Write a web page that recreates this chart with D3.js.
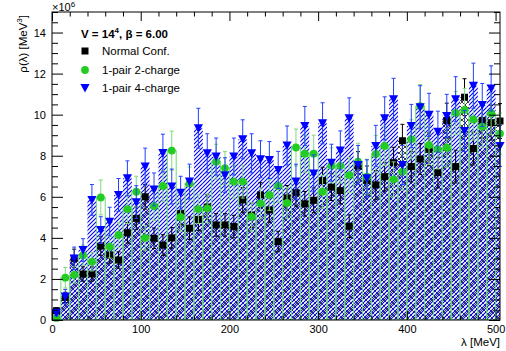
<!DOCTYPE html>
<html><head><meta charset="utf-8">
<script src="https://cdn.jsdelivr.net/npm/d3@7"></script>
<style>
body{margin:0;background:#fff}
svg{display:block}
text{font-family:"Liberation Sans",Arial,Helvetica,sans-serif;fill:#000}
</style>
</head><body>
<svg id="c" width="506" height="351"></svg>
<script>
// ---- data (rho values in units of 10^6 MeV^3) ----
const lambdaCenters = [5,15,25,35,45,55,65,75,85,95,105,115,125,135,145,155,165,175,185,195,
  205,215,225,235,245,255,265,275,285,295,305,315,325,335,345,355,365,375,385,395,
  405,415,425,435,445,455,465,475,485,495,505];
const binWidth = 10;
const normalConf = [0.45,1.10,3.00,2.24,2.24,3.60,3.17,2.92,4.25,4.95,6.00,3.98,3.65,4.00,5.18,4.47,4.90,5.50,4.63,4.63,
  4.55,5.85,5.11,6.09,5.36,3.82,5.95,6.20,5.66,5.83,6.79,6.47,6.30,4.57,7.50,6.80,6.58,6.98,7.66,8.73,
  7.47,7.84,8.31,7.18,9.71,7.47,10.85,8.35,9.71,9.61,9.69];
const normalErr = [0.15,0.25,0.45,0.35,0.35,0.45,0.40,0.40,0.50,0.55,0.60,0.50,0.50,0.50,0.55,0.55,0.55,0.60,0.55,0.55,
  0.55,0.60,0.60,0.60,0.60,0.50,0.60,0.65,0.60,0.60,0.65,0.65,0.65,0.55,0.70,0.70,0.70,0.70,0.75,0.80,
  0.75,0.75,0.80,0.75,0.85,0.80,0.90,0.80,0.85,0.85,0.85];
const pair2 = [0.10,2.06,2.20,3.15,2.84,5.97,3.57,4.14,5.40,6.25,4.00,5.55,6.53,8.25,5.02,6.65,5.40,5.44,7.71,7.40,
  6.74,6.74,5.03,5.68,6.09,6.53,5.70,8.40,8.10,8.10,6.25,7.53,7.51,7.06,7.71,6.98,8.09,8.48,6.85,7.23,
  8.80,10.42,8.52,8.31,8.39,10.08,10.23,9.77,9.42,10.07,9.08];
const pair2Err = [0.10,0.50,0.40,0.50,0.45,0.85,0.55,0.60,0.70,0.75,0.60,0.70,0.75,0.95,0.70,0.80,0.70,0.70,0.85,0.80,
  0.80,0.80,0.70,0.75,0.75,0.80,0.75,0.90,0.90,0.90,0.80,0.85,0.85,0.85,0.90,0.85,0.90,0.95,0.85,0.90,
  0.95,1.05,0.95,0.95,0.95,1.05,1.05,1.00,1.00,1.05,1.00];
const pair4 = [0.35,1.14,3.00,3.41,5.85,4.38,4.79,6.09,6.90,5.74,7.47,6.36,8.13,6.50,6.20,6.74,9.34,8.12,7.96,7.05,
  7.96,8.80,8.12,7.83,7.79,7.31,8.50,6.74,9.45,7.14,9.58,7.66,8.26,9.82,7.55,6.90,8.48,9.82,10.75,7.55,
  9.45,10.36,9.99,9.17,9.94,10.75,9.21,11.41,10.47,11.28,8.48];
const pair4Err = [0.15,0.35,0.55,0.55,0.75,0.65,0.70,0.80,0.85,0.80,0.90,0.80,0.92,0.85,0.80,0.85,0.97,0.95,0.90,0.85,
  0.90,0.95,0.95,0.90,0.90,0.90,0.95,0.85,0.95,0.90,1.00,0.90,0.95,1.00,0.95,0.90,1.00,1.05,1.02,0.95,
  1.05,1.05,1.05,1.00,1.05,1.10,1.00,1.10,1.05,1.10,1.00];
const yTicks = [0,2,4,6,8,10,12,14];
const xTicks = [0,100,200,300,400,500];

// ---- layout ----
const F = {l:52, r:500, t:12, b:320};
const x = d3.scaleLinear().domain([0,505]).range([F.l,F.r]);
const y = d3.scaleLinear().domain([0,15]).range([F.b,F.t]);
const svg = d3.select("#c");

const defs = svg.append("defs");
defs.append("clipPath").attr("id","frameClip").append("rect")
  .attr("x",F.l).attr("y",F.t).attr("width",F.r-F.l).attr("height",F.b-F.t);
// blue "/" hatch
const pBlue = defs.append("pattern").attr("id","hBlue").attr("patternUnits","userSpaceOnUse")
  .attr("x",2).attr("y",0).attr("width",4).attr("height",4);
pBlue.append("path").attr("d","M-1,1 L1,-1 M0,4 L4,0 M3,5 L5,3")
  .attr("stroke","#0000ff").attr("stroke-width",1.1).attr("fill","none");
// black cross-hatch
const pBlack = defs.append("pattern").attr("id","hBlack").attr("patternUnits","userSpaceOnUse")
  .attr("width",6).attr("height",6);
pBlack.append("path").attr("d","M-1,1 L1,-1 M0,6 L6,0 M5,7 L7,5 M-1,5 L1,7 M0,0 L6,6 M5,-1 L7,1")
  .attr("stroke","#000").attr("stroke-width",0.75).attr("fill","none");

const series = [
  {vals:normalConf, err:normalErr, fill:"url(#hBlack)", stroke:null, ecol:"#000", mcol:"#000", marker:"square"},
  {vals:pair2, err:pair2Err, fill:"none", stroke:"#6fdc6f", ecol:"#7fd97f", mcol:"#22cc22", marker:"circle"},
  {vals:pair4, err:pair4Err, fill:"url(#hBlue)", stroke:null, ecol:"#2040ff", mcol:"#0000ff", marker:"tri"}
];
const barOrder = [0,2,1];

function drawMarker(g, type, cx, cy, col){
  if(type==="square") g.append("rect").attr("x",cx-3.5).attr("y",cy-3.5).attr("width",7).attr("height",7).attr("fill",col);
  else if(type==="circle") g.append("circle").attr("cx",cx).attr("cy",cy).attr("r",3.9).attr("fill",col);
  else g.append("path").attr("d",`M${cx-4.6},${cy-4} L${cx+4.6},${cy-4} L${cx},${cy+4.6} Z`).attr("fill",col);
}

// bars (hatched histograms)
barOrder.forEach(k=>{
  const s = series[k];
  const gb = svg.append("g").attr("clip-path","url(#frameClip)");
  gb.selectAll("rect").data(s.vals).enter().append("rect")
    .attr("x",(d,i)=>x(lambdaCenters[i]-binWidth/2))
    .attr("width",(d,i)=>x(lambdaCenters[i]+binWidth/2)-x(lambdaCenters[i]-binWidth/2))
    .attr("y",d=>y(d)).attr("height",d=>y(0)-y(d))
    .attr("fill",s.fill)
    .attr("stroke",s.stroke||"none").attr("stroke-width",1);
});
// error bars and markers
series.forEach(s=>{
  const ge = svg.append("g").attr("stroke",s.ecol).attr("stroke-width",1).attr("fill","none");
  s.vals.forEach((v,i)=>{
    const cx = x(lambdaCenters[i]);
    const y1 = y(v+s.err[i]), y0 = y(Math.max(0,v-s.err[i]));
    ge.append("line").attr("x1",cx).attr("x2",cx).attr("y1",y1).attr("y2",y0);
    ge.append("line").attr("x1",cx-2).attr("x2",cx+2).attr("y1",y1).attr("y2",y1);
    ge.append("line").attr("x1",cx-2).attr("x2",cx+2).attr("y1",y0).attr("y2",y0);
  });
  const gm = svg.append("g");
  s.vals.forEach((v,i)=>drawMarker(gm, s.marker, x(lambdaCenters[i]), y(v), s.mcol));
});

// ---- axes ----
const yMinor = d3.range(0,15.01,0.5).filter(v=>v%2!==0);
const xMinor = d3.range(0,506,20).filter(v=>v%100!==0);
function styleAxis(g){ g.select(".domain").remove(); g.selectAll("line").attr("stroke","#000"); g.selectAll("text").attr("font-size",11).attr("font-family","Liberation Sans, Arial, sans-serif"); }
svg.append("g").attr("transform",`translate(${F.l},0)`)
  .call(d3.axisLeft(y).tickValues(yTicks).tickSize(-11).tickPadding(6).tickFormat(d3.format("d"))).call(styleAxis);
svg.append("g").attr("transform",`translate(${F.l},0)`)
  .call(d3.axisLeft(y).tickValues(yMinor).tickSize(-6).tickFormat("")).call(styleAxis);
svg.append("g").attr("transform",`translate(${F.r},0)`)
  .call(d3.axisRight(y).tickValues(yTicks).tickSize(-11).tickFormat("")).call(styleAxis);
svg.append("g").attr("transform",`translate(${F.r},0)`)
  .call(d3.axisRight(y).tickValues(yMinor).tickSize(-6).tickFormat("")).call(styleAxis);
svg.append("g").attr("transform",`translate(0,${F.b})`)
  .call(d3.axisBottom(x).tickValues(xTicks).tickSize(-9).tickPadding(5).tickFormat(d3.format("d"))).call(styleAxis);
svg.append("g").attr("transform",`translate(0,${F.b})`)
  .call(d3.axisBottom(x).tickValues(xMinor).tickSize(-4.5).tickFormat("")).call(styleAxis);
svg.append("g").attr("transform",`translate(0,${F.t})`)
  .call(d3.axisTop(x).tickValues(xTicks).tickSize(-9).tickFormat("")).call(styleAxis);
svg.append("g").attr("transform",`translate(0,${F.t})`)
  .call(d3.axisTop(x).tickValues(xMinor).tickSize(-4.5).tickFormat("")).call(styleAxis);

svg.append("rect").attr("x",F.l).attr("y",F.t).attr("width",F.r-F.l).attr("height",F.b-F.t)
  .attr("fill","none").attr("stroke","#000").attr("stroke-width",1);

// ---- titles ----
const xt = svg.append("text").attr("x",500).attr("y",346).attr("text-anchor","end").attr("font-size",11.5);
xt.text("λ [MeV]");
const yt = svg.append("text").attr("transform","translate(27,15) rotate(-90)").attr("text-anchor","end").attr("font-size",11.5);
yt.append("tspan").text("ρ(λ)  [MeV");
yt.append("tspan").attr("font-size",8).attr("dy",-5).text("3");
yt.append("tspan").attr("dy",5).text("]");
const ex = svg.append("text").attr("x",52).attr("y",11).attr("font-size",11);
ex.append("tspan").text("×10");
ex.append("tspan").attr("font-size",8).attr("dy",-4.3).text("6");

// ---- legend ----
const lt = svg.append("text").attr("x",81).attr("y",38).attr("font-size",11.5).attr("font-weight","bold");
lt.append("tspan").text("V = 14");
lt.append("tspan").attr("font-size",8).attr("dy",-5).text("4");
lt.append("tspan").attr("dy",5).text(",  β = 6.00");
const legendNames = ["Normal Conf.","1-pair 2-charge","1-pair 4-charge"];
const legendY = [51,70,88];
series.forEach((s,i)=>{
  drawMarker(svg, s.marker, 85, legendY[i], s.mcol);
  svg.append("text").attr("x",102).attr("y",legendY[i]+4).attr("font-size",11.5).text(legendNames[i]);
});
</script>
</body></html>
